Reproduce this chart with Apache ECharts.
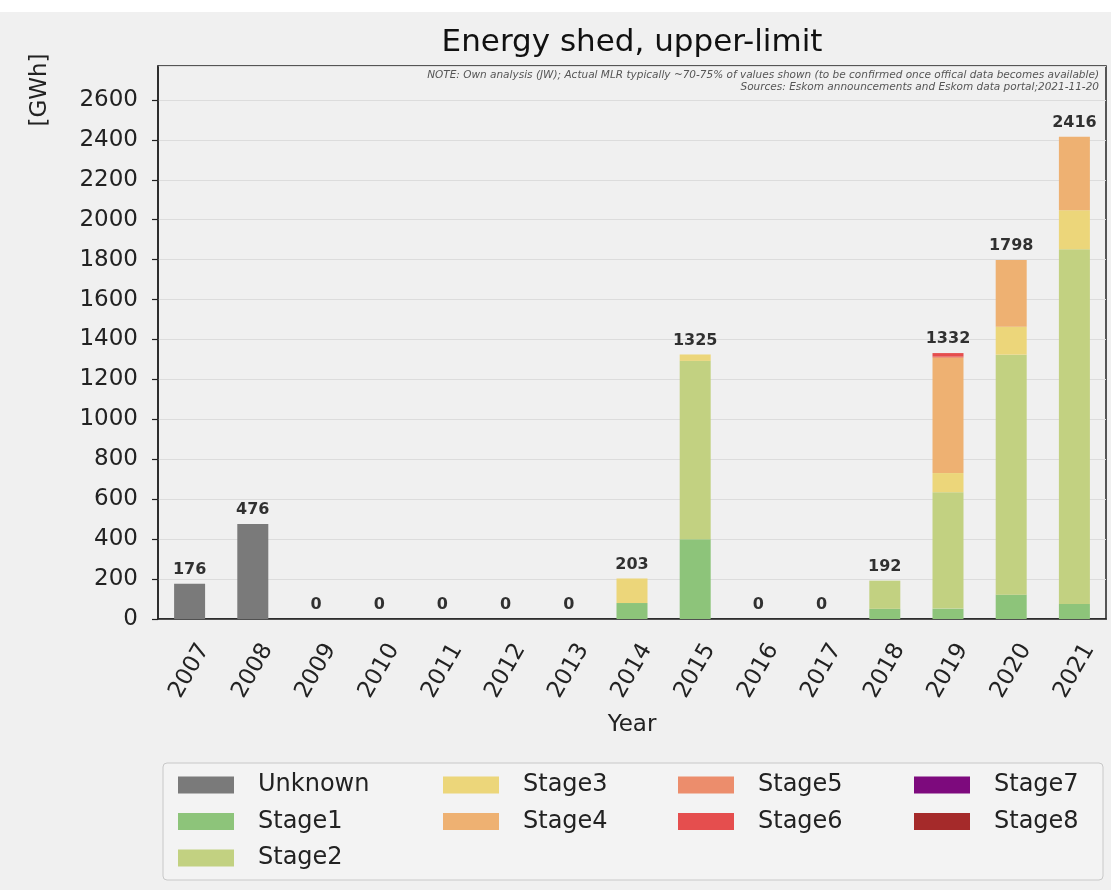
<!DOCTYPE html>
<html>
<head>
<meta charset="utf-8">
<script src="https://cdn.jsdelivr.net/npm/echarts@6/dist/echarts.min.js"></script>
<style>
html,body{margin:0;padding:0;background:#ffffff;}
#chart{width:1111px;height:890px;}
</style>
</head>
<body>
<div id="chart"></div>
<script>
const years = ['2007','2008','2009','2010','2011','2012','2013','2014','2015','2016','2017','2018','2019','2020','2021'];
const unknown = [176,476,0,0,0,0,0,0,0,0,0,0,0,0,0];
const stage1  = [0,0,0,0,0,0,0,80,400,0,0,51,52,122,75];
const stage2  = [0,0,0,0,0,0,0,0,893,0,0,141,583,1202,1777];
const stage3  = [0,0,0,0,0,0,0,123,32,0,0,0,96,140,195];
const stage4  = [0,0,0,0,0,0,0,0,0,0,0,0,577,334,369];
const stage5  = [0,0,0,0,0,0,0,0,0,0,0,0,6,0,0];
const stage6  = [0,0,0,0,0,0,0,0,0,0,0,0,18,0,0];
const stage7  = [0,0,0,0,0,0,0,0,0,0,0,0,0,0,0];
const stage8  = [0,0,0,0,0,0,0,0,0,0,0,0,0,0,0];
const totals  = [176,476,0,0,0,0,0,203,1325,0,0,192,1332,1798,2416];
const seriesNames = ['Unknown','Stage1','Stage2','Stage3','Stage4','Stage5','Stage6','Stage7','Stage8'];
const seriesData = [unknown,stage1,stage2,stage3,stage4,stage5,stage6,stage7,stage8];
const colors = ['#7a7a7a','#8dc47a','#c2d181','#ecd67a','#eeb172','#ec8d6c','#e54e4e','#7d0a7d','#a52a2a'];

const FONT = 'DejaVu Sans';
const chart = echarts.init(document.getElementById('chart'));

const series = seriesNames.map((n,i)=>({
  name:n, type:'bar', stack:'total', data:seriesData[i], barWidth:31,
  itemStyle:{color:colors[i]}, emphasis:{disabled:true}
}));
series.push({
  type:'scatter', data:totals, symbolSize:0, silent:true, z:10,
  itemStyle:{color:'transparent'},
  label:{show:true, position:'top', distance:6, fontFamily:FONT, fontWeight:'bold', fontSize:16, color:'#000',
    textBorderWidth:0, formatter:p=>String(p.value)}
});

const legendCols = [['Unknown','Stage1','Stage2'],['Stage3','Stage4'],['Stage5','Stage6'],['Stage7','Stage8']];
const legendLefts = [173,438,673,909];
const legends = legendCols.map((d,i)=>({
  data:d, orient:'vertical', left:legendLefts[i], top:768, icon:'rect',
  itemWidth:56, itemHeight:17, itemGap:12.5, selectedMode:false,
  textStyle:{fontFamily:FONT, fontSize:24, color:'#222', lineHeight:24, padding:[0,0,0,19]}
}));

chart.setOption({
  backgroundColor:'#f0f0f0',
  animation:false,
  grid:{left:158, right:5, top:66, bottom:271, show:true, borderColor:'#222', borderWidth:1.5, backgroundColor:'transparent'},
  xAxis:{
    type:'category', data:years,
    axisLine:{lineStyle:{color:'#222', width:1.5}},
    axisTick:{alignWithLabel:true, length:6, lineStyle:{color:'#222', width:1.2}},
    axisLabel:{rotate:60, align:'center', verticalAlign:'middle', margin:52, fontFamily:FONT, fontSize:23, color:'#222', interval:0}
  },
  yAxis:{
    type:'value', min:0, max:2770, interval:200,
    axisLine:{show:true, lineStyle:{color:'#222', width:1.5}},
    axisTick:{show:true, length:6, lineStyle:{color:'#222', width:1.2}},
    axisLabel:{fontFamily:FONT, fontSize:23, color:'#222', margin:20, showMaxLabel:false, formatter:v=>String(v)},
    splitLine:{show:true, lineStyle:{color:'#dcdcdc', width:1}}
  },
  legend:legends,
  series:series,
  graphic:[
    {type:'rect', left:0, top:0, shape:{width:1111, height:12}, style:{fill:'#ffffff'}, silent:true},
    {type:'rect', shape:{x:163, y:763, width:940, height:117, r:4}, style:{fill:'#f3f3f3', stroke:'#c8c8c8', lineWidth:1}, z:-1, silent:true},
    {type:'text', x:632, y:43, style:{text:'Energy shed, upper-limit', fontFamily:FONT, fontSize:31, fill:'#111', align:'center', verticalAlign:'middle'}},
    {type:'text', x:632, y:725, style:{text:'Year', fontFamily:FONT, fontSize:23, fill:'#222', align:'center', verticalAlign:'middle'}},
    {type:'text', x:40, y:90, rotation:Math.PI/2, style:{text:'[GWh]', fontFamily:FONT, fontSize:23, fill:'#222', align:'center', verticalAlign:'middle'}},
    {type:'text', x:1099, y:75, style:{text:'NOTE: Own analysis (JW); Actual MLR typically ~70-75% of values shown (to be confirmed once offical data becomes available)', fontFamily:FONT, fontSize:10.5, fontStyle:'italic', fill:'#555', align:'right', verticalAlign:'middle'}},
    {type:'text', x:1099, y:87, style:{text:'Sources: Eskom announcements and Eskom data portal;2021-11-20', fontFamily:FONT, fontSize:10.5, fontStyle:'italic', fill:'#555', align:'right', verticalAlign:'middle'}}
  ]
});
</script>
</body>
</html>
